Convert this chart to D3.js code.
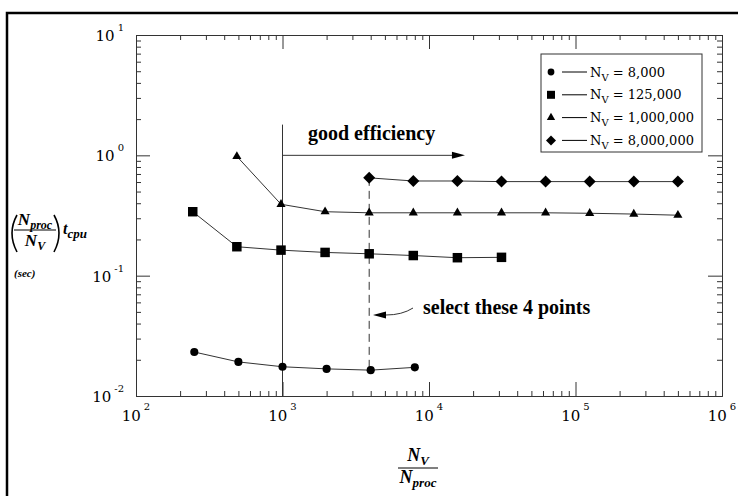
<!DOCTYPE html>
<html><head><meta charset="utf-8">
<script src="https://cdn.jsdelivr.net/npm/d3@7"></script>
<style>body{margin:0;background:#fff}svg{display:block}</style>
</head><body><svg id="c" width="738" height="496"></svg>
<script>
// ---- data ----
const xTickValues = [1e2, 1e3, 1e4, 1e5, 1e6];
const xTickExps = ["2", "3", "4", "5", "6"];
const yTickValues = [1e-2, 1e-1, 1e0, 1e1];
const yTickExps = ["-2", "-1", "0", "1"];
const seriesLabels = ["8,000", "125,000", "1,000,000", "8,000,000"];
const x8k = [250, 500, 1000, 2000, 4000, 8000];
const y8k = [0.0232, 0.0192, 0.0175, 0.0168, 0.0164, 0.0173];
const x125k = [244, 488, 977, 1953, 3906, 7812, 15625, 31250];
const y125k = [0.340, 0.174, 0.163, 0.156, 0.152, 0.147, 0.141, 0.142];
const x1m = [488, 977, 1953, 3906, 7812, 15625, 31250, 62500, 125000, 250000, 500000];
const y1m = [0.98, 0.392, 0.340, 0.333, 0.333, 0.333, 0.333, 0.333, 0.330, 0.325, 0.318];
const x8m = [3906, 7812, 15625, 31250, 62500, 125000, 250000, 500000];
const y8m = [0.650, 0.612, 0.612, 0.605, 0.605, 0.605, 0.605, 0.605];
const annotGood = "good efficiency";
const annotSelect = "select these 4 points";

const svg = d3.select("#c");
const P = {l: 136, r: 722, t: 35, b: 396};
const x = d3.scaleLog().domain([1e2, 1e6]).range([P.l, P.r]);
const y = d3.scaleLog().domain([1e-2, 1e1]).range([P.b, P.t]);

// outer frame (top + left visible)
svg.append("path").attr("d", "M7,496V13H738").attr("fill", "none").attr("stroke", "#000").attr("stroke-width", 2.5);

// axes
const minorX = x.ticks().filter(v => !xTickValues.includes(v));
const minorY = y.ticks().filter(v => !yTickValues.some(t => Math.abs(t - v) / t < 1e-9));
function ax(gen, tr, vals, size) {
  const g = svg.append("g").attr("transform", tr)
    .call(gen.tickValues(vals).tickSize(size).tickSizeOuter(0).tickFormat(""));
  g.selectAll("path,line").attr("stroke", "#333").attr("stroke-width", 1);
  return g;
}
ax(d3.axisBottom(x), `translate(0,${P.b})`, xTickValues, -14);
ax(d3.axisBottom(x), `translate(0,${P.b})`, minorX, -5);
ax(d3.axisTop(x), `translate(0,${P.t})`, xTickValues, -14);
ax(d3.axisTop(x), `translate(0,${P.t})`, minorX, -5);
ax(d3.axisLeft(y), `translate(${P.l},0)`, yTickValues, -14);
ax(d3.axisLeft(y), `translate(${P.l},0)`, minorY, -5);
ax(d3.axisRight(y), `translate(${P.r},0)`, yTickValues, -14);
ax(d3.axisRight(y), `translate(${P.r},0)`, minorY, -5);

const tickFont = "'DejaVu Serif', serif";
// x tick labels
xTickValues.forEach((v, i) => {
  const g = svg.append("g");
  const t1 = g.append("text").attr("font-family", tickFont).attr("font-size", 15).attr("y", P.b + 25).text("10");
  const t2 = g.append("text").attr("font-family", tickFont).attr("font-size", 10).attr("y", P.b + 14).text(xTickExps[i]);
  const w1 = t1.node().getComputedTextLength(), w2 = t2.node().getComputedTextLength();
  const start = x(v) - (w1 + 3 + w2) / 2;
  t1.attr("x", start); t2.attr("x", start + w1 + 3);
});
// y tick labels
yTickValues.forEach((v, i) => {
  const g = svg.append("g");
  const t2 = g.append("text").attr("font-family", tickFont).attr("font-size", 10).attr("text-anchor", "end")
    .attr("x", 124).attr("y", y(v) - 4).text(yTickExps[i]);
  const w2 = t2.node().getComputedTextLength();
  g.append("text").attr("font-family", tickFont).attr("font-size", 15).attr("text-anchor", "end")
    .attr("x", 124 - w2 - 3).attr("y", y(v) + 6).text("10");
});

// annotations: vertical line at 1000, arrow at y=1
const vLineTop = 1.8, arrowEnd = 17600;
svg.append("line").attr("x1", x(1000)).attr("x2", x(1000)).attr("y1", y(1e-2)).attr("y2", y(vLineTop))
  .attr("stroke", "#333").attr("stroke-width", 1);
svg.append("line").attr("x1", x(1000)).attr("x2", x(arrowEnd) - 8).attr("y1", y(1)).attr("y2", y(1))
  .attr("stroke", "#333").attr("stroke-width", 1);
svg.append("path").attr("d", `M${x(arrowEnd)},${y(1)}l-13,-3.5v7z`).attr("fill", "#000");
svg.append("text").attr("x", 308).attr("y", 140).attr("font-family", "'Liberation Serif', serif")
  .attr("font-weight", "bold").attr("font-size", 20).text(annotGood);

// dashed selection line at 4000
svg.append("line").attr("x1", x(x8m[0])).attr("x2", x(x8m[0])).attr("y1", y(y8m[0])).attr("y2", y(y8k[4]))
  .attr("stroke", "#333").attr("stroke-width", 1).attr("stroke-dasharray", "8,5");
svg.append("path").attr("d", "M413,308Q402,315 386,315").attr("fill", "none").attr("stroke", "#333");
svg.append("path").attr("d", "M373,315l13,-3.5v7z").attr("fill", "#000");
svg.append("text").attr("x", 423).attr("y", 314).attr("font-family", "'Liberation Serif', serif")
  .attr("font-weight", "bold").attr("font-size", 20).text(annotSelect);

// series
const series = [
  {xs: x8k, ys: y8k, sym: d3.symbolCircle, size: 52, rot: 0, lsize: 36},
  {xs: x125k, ys: y125k, sym: d3.symbolSquare, size: 90, rot: 0, lsize: 64},
  {xs: x1m, ys: y1m, sym: d3.symbolTriangle, size: 36, rot: 0, lsize: 30},
  {xs: x8m, ys: y8m, sym: d3.symbolSquare, size: 72, rot: 45, lsize: 50},
];
const line = d3.line().x(d => x(d[0])).y(d => y(d[1]));
series.forEach(s => {
  const pts = s.xs.map((v, i) => [v, s.ys[i]]);
  svg.append("path").attr("d", line(pts)).attr("fill", "none").attr("stroke", "#333").attr("stroke-width", 1);
  svg.append("g").selectAll("path").data(pts).join("path")
    .attr("d", d3.symbol(s.sym, s.size))
    .attr("transform", d => `translate(${x(d[0])},${y(d[1])}) rotate(${s.rot})`)
    .attr("fill", "#000");
});

// legend
const L = {x: 541, y: 54, w: 161, h: 98};
svg.append("rect").attr("x", L.x).attr("y", L.y).attr("width", L.w).attr("height", L.h)
  .attr("fill", "#fff").attr("stroke", "#333").attr("stroke-width", 1);
series.forEach((s, i) => {
  const cy = L.y + 18 + i * 22.8;
  svg.append("path").attr("d", d3.symbol(s.sym, s.lsize))
    .attr("transform", `translate(${L.x + 10},${cy}) rotate(${s.rot})`).attr("fill", "#000");
  svg.append("line").attr("x1", L.x + 21).attr("x2", L.x + 46).attr("y1", cy).attr("y2", cy).attr("stroke", "#000");
  const t = svg.append("text").attr("x", L.x + 49).attr("y", cy + 4.5).attr("font-family", tickFont).attr("font-size", 13);
  t.append("tspan").text("N");
  t.append("tspan").attr("font-size", 10).attr("dy", 4).text("V");
  t.append("tspan").attr("dy", -4).text(" = " + seriesLabels[i]);
});

// axis titles (math)
const mf = "'Liberation Serif', serif";
function mathText(g, xx, yy, main, sub, anchor, size, subSize) {
  const t = g.append("text").attr("font-family", mf).attr("font-weight", "bold").attr("font-style", "italic")
    .attr("font-size", size).attr("text-anchor", anchor).attr("x", xx).attr("y", yy);
  t.append("tspan").text(main);
  t.append("tspan").attr("font-size", subSize).attr("dy", 4).text(sub);
  return t;
}
// y title
const gy = svg.append("g");
mathText(gy, 35, 225, "N", "proc", "middle", 17, 12);
mathText(gy, 35, 246, "N", "V", "middle", 17, 12);
gy.append("line").attr("x1", 14).attr("x2", 56).attr("y1", 230).attr("y2", 230).attr("stroke", "#000");
gy.append("path").attr("d", "M17,215Q7,233 17,252").attr("fill", "none").attr("stroke", "#000").attr("stroke-width", 1.6);
gy.append("path").attr("d", "M54,215Q64,233 54,252").attr("fill", "none").attr("stroke", "#000").attr("stroke-width", 1.6);
mathText(gy, 63, 234, "t", "cpu", "start", 16, 13);
gy.append("text").attr("font-family", mf).attr("font-weight", "bold").attr("font-style", "italic")
  .attr("font-size", 11).attr("x", 14).attr("y", 277).text("(sec)");
// x title
const gx = svg.append("g");
mathText(gx, 418, 461, "N", "V", "middle", 18, 13);
mathText(gx, 418, 483, "N", "proc", "middle", 18, 13);
gx.append("line").attr("x1", 398).attr("x2", 438).attr("y1", 468).attr("y2", 468).attr("stroke", "#000");
</script></body></html>
